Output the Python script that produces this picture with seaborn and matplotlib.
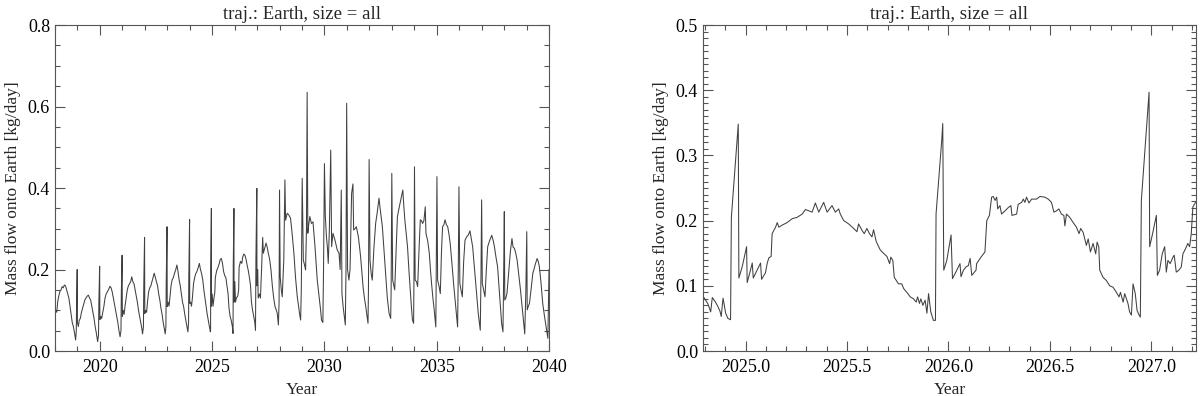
import numpy as np
import pandas as pd
import seaborn as sns
import matplotlib.pyplot as plt
from matplotlib.ticker import MultipleLocator

# left panel: 2018-2040 (time in years, mass flow in kg/day)
t_long = [
    2018.00, 2018.04, 2018.08, 2018.12, 2018.17, 2018.22, 2018.27, 2018.32, 2018.37, 2018.42, 2018.47, 2018.52, 2018.57, 2018.62, 2018.67, 2018.72, 2018.77, 2018.82, 2018.87, 2018.92, 2018.95, 2018.965, 2018.99,
    2019.00, 2019.04, 2019.08, 2019.13, 2019.18, 2019.23, 2019.28, 2019.33, 2019.38, 2019.44, 2019.49, 2019.54, 2019.59, 2019.64, 2019.69, 2019.74, 2019.79, 2019.84, 2019.90, 2019.94, 2019.955, 2019.99,
    2020.00, 2020.04, 2020.08, 2020.13, 2020.18, 2020.23, 2020.28, 2020.33, 2020.38, 2020.45, 2020.50, 2020.55, 2020.60, 2020.65, 2020.70, 2020.75, 2020.80, 2020.85, 2020.90, 2020.94, 2020.955, 2020.99,
    2021.00, 2021.04, 2021.08, 2021.12, 2021.17, 2021.22, 2021.27, 2021.32, 2021.37, 2021.42, 2021.47, 2021.52, 2021.57, 2021.62, 2021.67, 2021.72, 2021.77, 2021.82, 2021.87, 2021.90, 2021.94, 2021.955, 2021.99,
    2022.00, 2022.04, 2022.08, 2022.12, 2022.17, 2022.22, 2022.27, 2022.32, 2022.37, 2022.42, 2022.47, 2022.52, 2022.57, 2022.62, 2022.67, 2022.72, 2022.77, 2022.82, 2022.87, 2022.91, 2022.94, 2022.955, 2022.99,
    2023.00, 2023.04, 2023.08, 2023.12, 2023.17, 2023.22, 2023.27, 2023.32, 2023.38, 2023.43, 2023.48, 2023.53, 2023.58, 2023.63, 2023.68, 2023.73, 2023.78, 2023.83, 2023.88, 2023.92, 2023.95, 2023.96, 2023.995,
    2024.00, 2024.04, 2024.08, 2024.12, 2024.17, 2024.22, 2024.27, 2024.32, 2024.38, 2024.43, 2024.48, 2024.53, 2024.58, 2024.63, 2024.68, 2024.73, 2024.78, 2024.83, 2024.88, 2024.92, 2024.93, 2024.935, 2024.965, 2024.97,
    2025.00, 2025.04, 2025.08, 2025.12, 2025.14, 2025.20, 2025.26, 2025.32, 2025.36, 2025.41, 2025.46, 2025.51, 2025.56, 2025.61, 2025.66, 2025.71, 2025.75, 2025.80, 2025.85, 2025.90, 2025.93, 2025.94, 2025.97, 2025.975,
    2026.01, 2026.04, 2026.08, 2026.14, 2026.18, 2026.20, 2026.26, 2026.32, 2026.36, 2026.41, 2026.46, 2026.51, 2026.56, 2026.61, 2026.66, 2026.71, 2026.75, 2026.80, 2026.85, 2026.90, 2026.93, 2026.95, 2026.99, 2026.995,
    2027.03, 2027.05, 2027.10, 2027.15, 2027.20, 2027.25, 2027.28, 2027.33, 2027.40, 2027.45, 2027.50, 2027.56, 2027.62, 2027.68, 2027.74, 2027.80, 2027.86, 2027.90, 2027.95, 2027.98, 2028.00,
    2028.03, 2028.08, 2028.12, 2028.19, 2028.24, 2028.27, 2028.34, 2028.41, 2028.49, 2028.56, 2028.64, 2028.71, 2028.79, 2028.85, 2028.89, 2028.94, 2028.97, 2029.01,
    2029.06, 2029.12, 2029.16, 2029.20, 2029.23, 2029.26, 2029.30, 2029.35, 2029.42, 2029.49, 2029.58, 2029.68, 2029.73, 2029.78, 2029.83, 2029.87, 2029.93, 2029.96, 2030.00,
    2030.04, 2030.09, 2030.13, 2030.17, 2030.22, 2030.28, 2030.32, 2030.38, 2030.43, 2030.47, 2030.52, 2030.57, 2030.65, 2030.70, 2030.75, 2030.78, 2030.83, 2030.87, 2030.93, 2030.96, 2030.99,
    2031.03, 2031.09, 2031.14, 2031.21, 2031.27, 2031.30, 2031.36, 2031.42, 2031.51, 2031.61, 2031.72, 2031.78, 2031.84, 2031.94, 2031.96, 2031.99,
    2032.03, 2032.08, 2032.13, 2032.20, 2032.28, 2032.35, 2032.43, 2032.48, 2032.58, 2032.66, 2032.73, 2032.80, 2032.88, 2032.95, 2032.97, 2033.00,
    2033.04, 2033.13, 2033.20, 2033.25, 2033.32, 2033.40, 2033.45, 2033.49, 2033.53, 2033.58, 2033.64, 2033.70, 2033.76, 2033.82, 2033.87, 2033.92, 2033.97, 2033.99, 2034.01,
    2034.04, 2034.10, 2034.15, 2034.22, 2034.27, 2034.32, 2034.37, 2034.43, 2034.49, 2034.52, 2034.60, 2034.67, 2034.72, 2034.77, 2034.83, 2034.89, 2034.96, 2034.98, 2035.01,
    2035.04, 2035.10, 2035.16, 2035.21, 2035.26, 2035.32, 2035.37, 2035.43, 2035.49, 2035.55, 2035.60, 2035.67, 2035.75, 2035.81, 2035.87, 2035.93, 2035.96, 2035.99,
    2036.03, 2036.08, 2036.14, 2036.20, 2036.26, 2036.33, 2036.41, 2036.48, 2036.54, 2036.60, 2036.67, 2036.75, 2036.80, 2036.85, 2036.90, 2036.94, 2036.97, 2037.00,
    2037.03, 2037.09, 2037.15, 2037.21, 2037.27, 2037.35, 2037.45, 2037.52, 2037.57, 2037.64, 2037.71, 2037.77, 2037.83, 2037.89, 2037.95, 2037.98, 2038.01,
    2038.03, 2038.08, 2038.13, 2038.20, 2038.28, 2038.35, 2038.40, 2038.46, 2038.52, 2038.58, 2038.65, 2038.73, 2038.80, 2038.87, 2038.92, 2038.97, 2039.01,
    2039.03, 2039.08, 2039.13, 2039.20, 2039.28, 2039.33, 2039.38, 2039.47, 2039.52, 2039.57, 2039.64, 2039.72, 2039.80, 2039.87, 2039.95, 2040.00,
]
v_long = [
    0.092, 0.100, 0.095, 0.120, 0.135, 0.146, 0.150, 0.158, 0.155, 0.162, 0.160, 0.150, 0.140, 0.130, 0.110, 0.090, 0.070, 0.060, 0.045, 0.027, 0.050, 0.120, 0.200,
    0.070, 0.060, 0.075, 0.080, 0.095, 0.105, 0.115, 0.125, 0.130, 0.135, 0.137, 0.130, 0.125, 0.110, 0.095, 0.080, 0.060, 0.045, 0.023, 0.040, 0.120, 0.208,
    0.077, 0.085, 0.080, 0.095, 0.110, 0.130, 0.140, 0.145, 0.150, 0.159, 0.155, 0.145, 0.130, 0.115, 0.100, 0.085, 0.070, 0.050, 0.035, 0.050, 0.140, 0.235,
    0.085, 0.100, 0.090, 0.110, 0.130, 0.150, 0.160, 0.165, 0.170, 0.182, 0.170, 0.165, 0.150, 0.135, 0.120, 0.100, 0.085, 0.070, 0.055, 0.042, 0.060, 0.160, 0.279,
    0.092, 0.100, 0.095, 0.120, 0.145, 0.155, 0.160, 0.170, 0.180, 0.191, 0.180, 0.170, 0.160, 0.140, 0.125, 0.105, 0.090, 0.070, 0.055, 0.042, 0.060, 0.170, 0.305,
    0.109, 0.120, 0.110, 0.133, 0.160, 0.175, 0.180, 0.190, 0.200, 0.211, 0.195, 0.174, 0.160, 0.140, 0.120, 0.109, 0.090, 0.075, 0.060, 0.047, 0.070, 0.180, 0.323,
    0.117, 0.120, 0.110, 0.130, 0.165, 0.180, 0.190, 0.195, 0.205, 0.215, 0.200, 0.190, 0.175, 0.150, 0.130, 0.110, 0.090, 0.075, 0.060, 0.047, 0.050, 0.200, 0.350, 0.110,
    0.140, 0.110, 0.130, 0.145, 0.180, 0.197, 0.205, 0.215, 0.225, 0.227, 0.215, 0.195, 0.185, 0.180, 0.160, 0.140, 0.105, 0.085, 0.075, 0.060, 0.043, 0.210, 0.350, 0.120,
    0.170, 0.120, 0.130, 0.135, 0.150, 0.205, 0.220, 0.215, 0.230, 0.238, 0.235, 0.225, 0.210, 0.197, 0.180, 0.160, 0.120, 0.100, 0.085, 0.070, 0.051, 0.230, 0.399, 0.160,
    0.200, 0.130, 0.140, 0.130, 0.200, 0.279, 0.240, 0.250, 0.265, 0.255, 0.240, 0.225, 0.199, 0.160, 0.130, 0.109, 0.100, 0.092, 0.064, 0.120, 0.395,
    0.182, 0.150, 0.133, 0.223, 0.420, 0.321, 0.338, 0.334, 0.326, 0.289, 0.240, 0.182, 0.133, 0.110, 0.092, 0.076, 0.150, 0.424,
    0.223, 0.210, 0.199, 0.300, 0.635, 0.289, 0.310, 0.330, 0.313, 0.317, 0.256, 0.174, 0.150, 0.125, 0.100, 0.076, 0.070, 0.200, 0.460,
    0.330, 0.280, 0.256, 0.215, 0.300, 0.493, 0.256, 0.289, 0.280, 0.272, 0.260, 0.248, 0.240, 0.200, 0.395, 0.141, 0.110, 0.092, 0.064, 0.200, 0.608,
    0.200, 0.174, 0.200, 0.387, 0.410, 0.297, 0.300, 0.305, 0.281, 0.232, 0.158, 0.130, 0.109, 0.068, 0.150, 0.470,
    0.223, 0.190, 0.174, 0.250, 0.313, 0.340, 0.375, 0.350, 0.305, 0.240, 0.182, 0.130, 0.092, 0.080, 0.150, 0.436,
    0.174, 0.150, 0.260, 0.330, 0.350, 0.371, 0.385, 0.395, 0.360, 0.322, 0.290, 0.256, 0.200, 0.150, 0.110, 0.076, 0.068, 0.200, 0.452,
    0.174, 0.170, 0.158, 0.260, 0.322, 0.320, 0.313, 0.320, 0.354, 0.289, 0.270, 0.240, 0.200, 0.166, 0.130, 0.100, 0.059, 0.200, 0.428,
    0.174, 0.160, 0.141, 0.240, 0.305, 0.310, 0.322, 0.310, 0.305, 0.285, 0.264, 0.220, 0.166, 0.130, 0.092, 0.059, 0.200, 0.403,
    0.166, 0.150, 0.133, 0.220, 0.272, 0.280, 0.285, 0.295, 0.275, 0.256, 0.210, 0.158, 0.125, 0.092, 0.070, 0.051, 0.180, 0.371,
    0.166, 0.150, 0.133, 0.200, 0.256, 0.270, 0.284, 0.270, 0.256, 0.230, 0.207, 0.160, 0.110, 0.068, 0.047, 0.180, 0.342,
    0.125, 0.130, 0.142, 0.190, 0.244, 0.276, 0.255, 0.252, 0.240, 0.223, 0.190, 0.150, 0.110, 0.068, 0.042, 0.150, 0.293,
    0.101, 0.110, 0.117, 0.150, 0.191, 0.200, 0.211, 0.227, 0.220, 0.207, 0.170, 0.117, 0.085, 0.060, 0.031, 0.200,
]

# right panel: zoom on 2024.8-2027.2
t_zoom = [
    2024.795, 2024.815, 2024.828, 2024.836, 2024.852, 2024.864, 2024.874, 2024.880, 2024.889, 2024.902, 2024.913, 2024.926,
    2024.930, 2024.964, 2024.967, 2024.984, 2025.005, 2025.008, 2025.020, 2025.033, 2025.038, 2025.057, 2025.074, 2025.079,
    2025.098, 2025.107, 2025.115, 2025.126, 2025.131, 2025.148, 2025.156, 2025.164, 2025.180, 2025.205, 2025.230, 2025.254,
    2025.279, 2025.295, 2025.311, 2025.328, 2025.344, 2025.361, 2025.385, 2025.402, 2025.426, 2025.443, 2025.459, 2025.467,
    2025.484, 2025.508, 2025.533, 2025.549, 2025.557, 2025.574, 2025.585, 2025.598, 2025.611, 2025.623, 2025.631, 2025.644,
    2025.656, 2025.664, 2025.680, 2025.697, 2025.710, 2025.716, 2025.726, 2025.733, 2025.754, 2025.770, 2025.779, 2025.795,
    2025.812, 2025.828, 2025.841, 2025.848, 2025.857, 2025.864, 2025.874, 2025.885, 2025.894, 2025.902, 2025.913, 2025.926,
    2025.936, 2025.939, 2025.967, 2025.972, 2025.977, 2025.992, 2026.013, 2026.020, 2026.038, 2026.057, 2026.062, 2026.074,
    2026.087, 2026.098, 2026.107, 2026.115, 2026.136, 2026.139, 2026.156, 2026.180, 2026.189, 2026.202, 2026.213, 2026.221,
    2026.230, 2026.238, 2026.243, 2026.254, 2026.262, 2026.279, 2026.295, 2026.308, 2026.313, 2026.336, 2026.344, 2026.361,
    2026.369, 2026.377, 2026.385, 2026.397, 2026.410, 2026.434, 2026.451, 2026.475, 2026.492, 2026.508, 2026.520, 2026.533,
    2026.544, 2026.557, 2026.569, 2026.574, 2026.582, 2026.598, 2026.615, 2026.631, 2026.644, 2026.652, 2026.664, 2026.672,
    2026.680, 2026.689, 2026.700, 2026.713, 2026.726, 2026.733, 2026.741, 2026.746, 2026.762, 2026.779, 2026.795, 2026.811,
    2026.828, 2026.841, 2026.848, 2026.861, 2026.869, 2026.885, 2026.893, 2026.902, 2026.910, 2026.921, 2026.930, 2026.940,
    2026.946, 2026.951, 2026.989, 2026.992, 2027.005, 2027.025, 2027.030, 2027.041, 2027.054, 2027.066, 2027.074, 2027.082,
    2027.093, 2027.107, 2027.113, 2027.123, 2027.136, 2027.148, 2027.156, 2027.169, 2027.180, 2027.189, 2027.197, 2027.205,
    2027.218,
]
v_zoom = [
    0.082, 0.072, 0.060, 0.082, 0.075, 0.068, 0.061, 0.053, 0.081, 0.058, 0.050, 0.048,
    0.205, 0.348, 0.112, 0.130, 0.160, 0.105, 0.119, 0.135, 0.112, 0.124, 0.135, 0.110,
    0.120, 0.135, 0.143, 0.145, 0.180, 0.190, 0.197, 0.190, 0.193, 0.197, 0.203, 0.205,
    0.210, 0.217, 0.215, 0.213, 0.227, 0.213, 0.228, 0.213, 0.223, 0.213, 0.218, 0.210,
    0.200, 0.195, 0.188, 0.183, 0.195, 0.185, 0.180, 0.188, 0.180, 0.175, 0.186, 0.168,
    0.160, 0.155, 0.150, 0.145, 0.134, 0.144, 0.139, 0.113, 0.103, 0.103, 0.096, 0.090,
    0.083, 0.080, 0.075, 0.083, 0.073, 0.080, 0.070, 0.078, 0.058, 0.088, 0.060, 0.047,
    0.047, 0.210, 0.323, 0.349, 0.124, 0.139, 0.178, 0.111, 0.122, 0.134, 0.114, 0.124,
    0.129, 0.131, 0.142, 0.116, 0.124, 0.134, 0.142, 0.152, 0.200, 0.208, 0.236, 0.237,
    0.231, 0.236, 0.218, 0.223, 0.210, 0.215, 0.220, 0.223, 0.208, 0.210, 0.225, 0.228,
    0.233, 0.228, 0.236, 0.227, 0.233, 0.233, 0.237, 0.236, 0.233, 0.228, 0.213, 0.215,
    0.218, 0.210, 0.208, 0.192, 0.210, 0.205, 0.197, 0.190, 0.180, 0.188, 0.182, 0.172,
    0.162, 0.172, 0.152, 0.165, 0.149, 0.167, 0.160, 0.124, 0.113, 0.108, 0.100, 0.098,
    0.090, 0.083, 0.090, 0.075, 0.088, 0.073, 0.060, 0.055, 0.103, 0.088, 0.062, 0.055,
    0.052, 0.231, 0.397, 0.160, 0.178, 0.208, 0.116, 0.124, 0.149, 0.160, 0.121, 0.139,
    0.134, 0.144, 0.147, 0.121, 0.124, 0.129, 0.149, 0.157, 0.165, 0.160, 0.180, 0.221,
    0.228,
]

df_long = pd.DataFrame({"Year": t_long, "flow": v_long})
df_zoom = pd.DataFrame({"Year": t_zoom, "flow": v_zoom})

sns.set_theme(style="ticks")
plt.rcParams['font.family'] = ['Liberation Serif', 'DejaVu Serif']
plt.rcParams['axes.edgecolor'] = '#555555'
plt.rcParams['xtick.color'] = '#555555'
plt.rcParams['ytick.color'] = '#555555'
plt.rcParams['xtick.labelcolor'] = 'black'
plt.rcParams['ytick.labelcolor'] = 'black'

fig = plt.figure(figsize=(12, 3.96), dpi=100)
ax1 = fig.add_axes([0.0458, 0.1136, 0.4117, 0.8232])
ax2 = fig.add_axes([0.5858, 0.1136, 0.4108, 0.8232])

line_col = '#404040'
sns.lineplot(data=df_long, x="Year", y="flow", ax=ax1, color=line_col,
             linewidth=0.75, estimator=None, sort=False)
sns.lineplot(data=df_zoom, x="Year", y="flow", ax=ax2, color=line_col,
             linewidth=0.75, estimator=None, sort=False)

ax1.set_xlim(2018, 2040)
ax1.set_ylim(0, 0.8)
ax1.xaxis.set_major_locator(MultipleLocator(5))
ax1.xaxis.set_minor_locator(MultipleLocator(1))
ax1.yaxis.set_major_locator(MultipleLocator(0.2))
ax1.yaxis.set_minor_locator(MultipleLocator(0.05))

ax2.set_xlim(2024.79, 2027.22)
ax2.set_ylim(0, 0.5)
ax2.xaxis.set_major_locator(MultipleLocator(0.5))
ax2.xaxis.set_minor_locator(MultipleLocator(0.1))
ax2.yaxis.set_major_locator(MultipleLocator(0.1))
ax2.yaxis.set_minor_locator(MultipleLocator(0.01))

for ax in (ax1, ax2):
    ax.xaxis.set_major_formatter(plt.FormatStrFormatter('%d' if ax is ax1 else '%.1f'))
    ax.yaxis.set_major_formatter(plt.FormatStrFormatter('%.1f'))
    ax.tick_params(which='both', direction='in', top=True, right=True,
                   labelsize=13, width=0.8)
    ax.tick_params(which='major', length=7)
    ax.tick_params(which='minor', length=3.5)
    ax.tick_params(axis='y', which='major', pad=3.5)
    ax.tick_params(axis='x', which='major', pad=6)
    for s in ax.spines.values():
        s.set_linewidth(0.8)
        s.set_visible(True)
    ax.set_title("traj.: Earth, size = all", fontsize=13.5, pad=4)
    ax.set_xlabel("Year", fontsize=12.5, labelpad=4)
    ax.set_ylabel("Mass flow onto Earth [kg/day]", fontsize=12.5, labelpad=5)

fig.savefig("out.png", dpi=100)
